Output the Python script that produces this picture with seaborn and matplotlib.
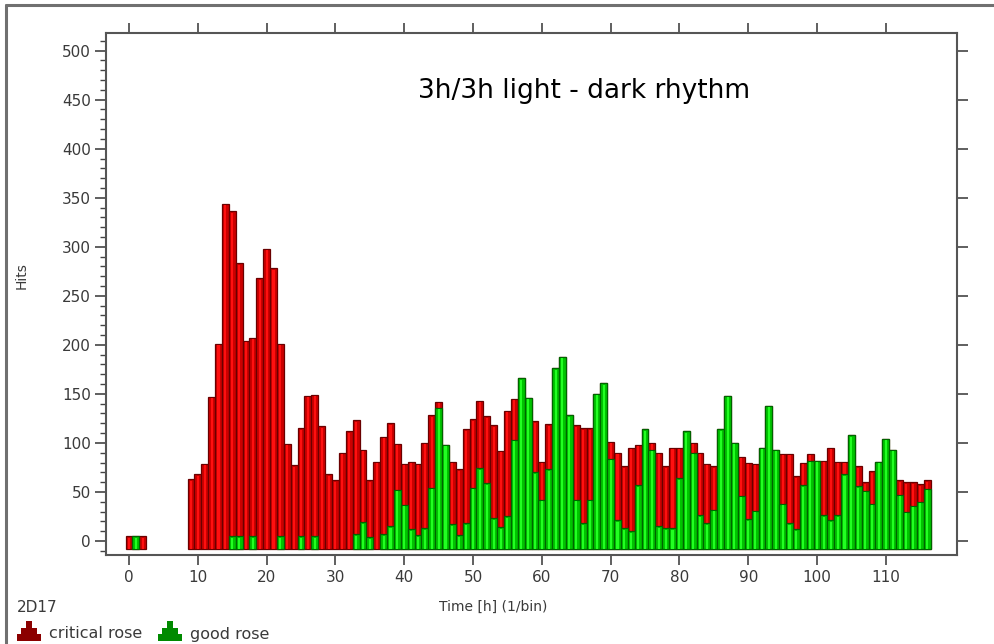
import numpy as np
import pandas as pd
import matplotlib
matplotlib.use("Agg")
import matplotlib.pyplot as plt
from matplotlib.ticker import MultipleLocator
from matplotlib.patches import Polygon
from matplotlib.lines import Line2D
import seaborn as sns

# ---------------- data ----------------
hours = [0, 1, 2] + list(range(9, 117))

critical = [5, 0, 5,
            63, 68, 79, 147, 201, 344, 331, 278, 204, 202, 268, 298, 278, 196, 99, 77, 110, 148, 144,   # 9-27
            117, 68, 62, 90, 112, 116, 74, 58, 81, 99, 105, 47, 42, 69, 73, 87, 74, 6, 0,           # 28-46
            64, 67, 96, 70, 69, 68, 95, 78, 108, 42, 0, 0, 52, 39, 46, 0, 0, 0,                       # 47-64
            76, 97, 73, 0, 0, 17, 69, 63, 85, 41, 0, 7, 75, 63, 82, 31, 0, 10,                        # 65-82
            64, 61, 44, 0, 0, 0, 40, 58, 48, 0, 0, 0, 51, 71, 54, 23, 7, 0,                           # 83-100
            56, 74, 55, 13, 0, 20, 9, 33, 0, 0, 0, 15, 30, 24, 18, 9]                                # 101-116

good = [0, 5, 0,
        0, 0, 0, 0, 0, 0, 5, 5, 0, 5, 0, 0, 0, 5, 0, 0, 5, 0, 5,                                   # 9-27
        0, 0, 0, 0, 0, 7, 19, 4, 0, 7, 15, 52, 37, 12, 6, 13, 54, 136, 98,                          # 28-46
        17, 6, 18, 54, 74, 59, 23, 14, 25, 103, 166, 146, 70, 42, 73, 176, 188, 128,                # 47-64
        42, 18, 42, 150, 161, 84, 21, 13, 10, 57, 114, 93, 15, 13, 13, 64, 112, 90,                 # 65-82
        26, 18, 32, 114, 148, 100, 46, 22, 31, 95, 138, 93, 38, 18, 12, 57, 82, 82,                 # 83-100
        26, 21, 26, 68, 108, 56, 51, 38, 81, 104, 93, 47, 30, 36, 40, 53]                          # 101-116

title_text = "3h/3h light - dark rhythm"
x_label = "Time [h] (1/bin)"
y_label = "Hits"
sample_name = "2D17"
legend_labels = ["critical rose", "good rose"]
x_ticks = list(range(0, 111, 10))
y_ticks = list(range(0, 501, 50))

# ---------------- styling ----------------
sns.set_theme(style="ticks")
plt.rcParams["font.family"] = ["DejaVu Sans"]

W, H = 994, 644
BASE = -8  # bars in the reference start slightly below zero

RED_BODY, RED_HI, RED_EDGE = "#cc0000", "#ff1010", "#6a0000"
GRN_BODY, GRN_HI, GRN_EDGE = "#00c400", "#22ff22", "#006400"
TXT = "#3a3a3a"

df = pd.DataFrame({"hour": hours, "critical": critical, "good": good})
df["total"] = df["critical"] + df["good"]
df["red_h"] = df["total"] - BASE
df["red_hi"] = df["red_h"] - 1.5
g = df[df["good"] > 0].copy()
g["grn_h"] = g["good"] - BASE
g["grn_hi"] = g["grn_h"] - 1.5

fig = plt.figure(figsize=(W / 100, H / 100), dpi=100)
fig.patch.set_facecolor("white")
ax = fig.add_axes([106 / W, 1 - 555 / H, (957 - 106) / W, (555 - 33) / H])
ax.set_facecolor("white")

common = dict(native_scale=True, errorbar=None, saturation=1, bottom=BASE, ax=ax)
sns.barplot(data=df, x="hour", y="red_h", width=1.0, color=RED_BODY,
            edgecolor=RED_EDGE, linewidth=0.9, **common)
sns.barplot(data=df, x="hour", y="red_hi", width=0.3, color=RED_HI,
            linewidth=0, **common)
sns.barplot(data=g, x="hour", y="grn_h", width=1.0, color=GRN_BODY,
            edgecolor=GRN_EDGE, linewidth=0.9, **common)
sns.barplot(data=g, x="hour", y="grn_hi", width=0.3, color=GRN_HI,
            linewidth=0, **common)

ax.set_xlim(-3.35, 120.35)
ax.set_ylim(-14.3, 518)

ax.set_xticks(x_ticks)
ax.set_xticklabels([str(t) for t in x_ticks])
ax.set_yticks(y_ticks)
ax.set_yticklabels([str(t) for t in y_ticks])
ax.yaxis.set_minor_locator(MultipleLocator(10))

for s in ax.spines.values():
    s.set_visible(True)
    s.set_color("#555555")
    s.set_linewidth(1.5)

ax.tick_params(axis="x", which="major", direction="out", length=7, width=1.2,
               bottom=True, top=True, labelsize=11, pad=3.5, color="#444444", labelcolor=TXT)
ax.tick_params(axis="y", which="major", direction="out", length=8, width=1.2,
               left=True, right=True, labelleft=True, labelsize=11, pad=3,
               color="#444444", labelcolor=TXT)
ax.tick_params(axis="y", which="minor", direction="out", length=4.3, width=1.0,
               left=True, right=False, color="#444444")
ax.tick_params(axis="x", which="minor", bottom=False, top=False)

ax.set_xlabel(x_label, fontsize=10, color=TXT)
ax.set_ylabel(y_label, fontsize=10, color=TXT)
ax.xaxis.set_label_coords((493 - 106) / 851, (555 - 607) / 522)
ax.xaxis.label.set_va("center")
ax.yaxis.set_label_coords((22 - 106) / 851, (555 - 276) / 522)
ax.yaxis.label.set_va("center")

ax.text((418 - 106) / 851, (555 - 98) / 522, title_text, transform=ax.transAxes,
        fontsize=19, color="black", ha="left", va="baseline")


def fx(x):
    return x / W


def fy(y):
    return 1 - y / H


# outer frame (left and top edges visible)
fig.add_artist(Line2D([fx(6), fx(6)], [0, fy(5)], color="#707070", lw=2.2))
fig.add_artist(Line2D([fx(6), 1.0], [fy(5), fy(5)], color="#707070", lw=2.2))

fig.text(fx(17), fy(607), sample_name, fontsize=11, color=TXT, ha="left", va="center")


def icon(x0, color):
    pts = [(0, 641), (0, 634), (4, 634), (4, 628), (9, 628), (9, 621), (15, 621),
           (15, 628), (20, 628), (20, 634), (24, 634), (24, 641)]
    poly = Polygon([(fx(x0 + px), fy(py)) for px, py in pts], closed=True,
                   facecolor=color, edgecolor="none", transform=fig.transFigure)
    fig.add_artist(poly)


icon(17, "#8b0000")
fig.text(fx(49), fy(634), legend_labels[0], fontsize=11.5, color=TXT, ha="left", va="center")
icon(158, "#008a00")
fig.text(fx(190), fy(634), legend_labels[1], fontsize=11.5, color=TXT, ha="left", va="center")

fig.savefig("out.png", dpi=100, facecolor="white")
